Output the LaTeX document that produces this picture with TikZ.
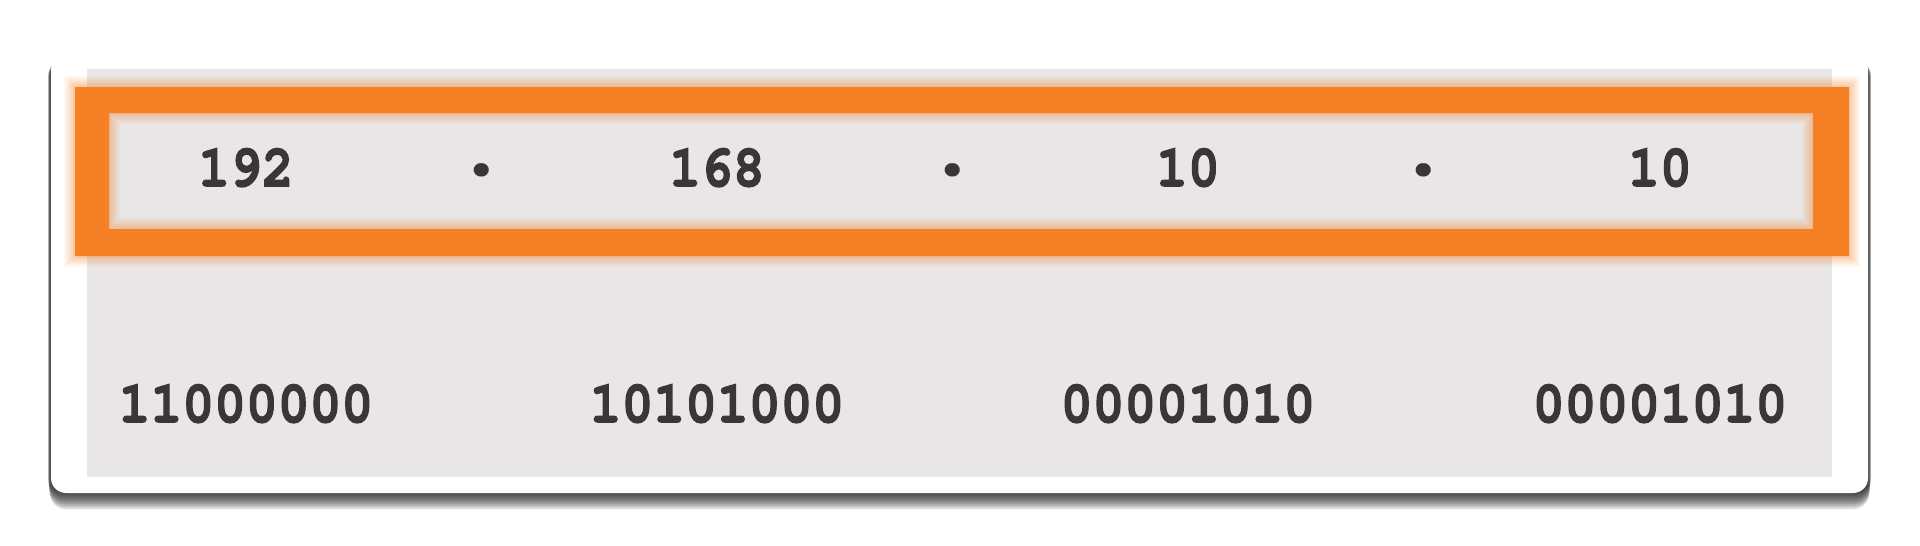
\documentclass[tikz,border=0pt]{standalone}
\usepackage[T1]{fontenc}
\usepackage{textcomp}
\usepackage{graphicx}
\usetikzlibrary{calc}
\definecolor{cardgray}{HTML}{E8E6E7}
\definecolor{orng}{HTML}{F58025}
\definecolor{txt}{HTML}{3A3637}
\newcommand{\digitfont}{\fontencoding{T1}\fontfamily{pcr}\fontseries{b}\fontsize{53}{53}\selectfont}
\newcommand{\tall}[1]{\special{pdf:literal 2 Tr 1.1 w}\scalebox{1}[1.12]{#1}\special{pdf:literal 0 Tr}}
\newcommand{\bigdot}{\scalebox{1.9}{\textperiodcentered}}
\tikzset{
  num/.style={inner sep=0pt, text=txt, font=\digitfont},
  sep/.style={inner sep=0pt, text=txt, font=\digitfont},
}
\begin{document}
\begin{tikzpicture}[x=1pt,y=-1pt]
\useasboundingbox (0,0) rectangle (1920,546);
\fill[white] (0,0) rectangle (1920,546);
% shadow
\foreach \i in {0,...,9}{
  \fill[black, opacity=0.11, rounded corners=16] (48+\i*0.2,60) rectangle (1871-\i*0.2,494+\i*1.7);
}
% card
\fill[white, rounded corners=15] (51,55) rectangle (1868,493);
\fill[cardgray] (87,69) rectangle (1832,477);
% orange glow
\foreach \i in {1,...,11}{
  \draw[orng, line width=1pt, opacity={0.45*(1-\i/12)}] (75-\i+0.5,87-\i+0.5) rectangle (1849+\i-0.5,256+\i-0.5);
  \draw[orng, line width=1pt, opacity={0.45*(1-\i/12)}] (109+\i-0.5,113+\i-0.5) rectangle (1813-\i+0.5,229-\i+0.5);
}
% orange frame
\fill[orng, even odd rule] (75,87) rectangle (1849,256) (109,113) rectangle (1813,229);
% decimal row
\node[num] (d1) at (246,168) {\tall{192}};
\node[num] (d2) at (717,168) {\tall{168}};
\node[num] (d3) at (1188,168) {\tall{10}};
\node[num] (d4) at (1660,168) {\tall{10}};
\node[sep] (s1) at (482,181) {\bigdot};
\node[sep] (s2) at (953,181) {\bigdot};
\node[sep] (s3) at (1424,181) {\bigdot};
% binary row
\node[num] (b1) at (246,404) {\tall{11000000}};
\node[num] (b2) at (717,404) {\tall{10101000}};
\node[num] (b3) at (1188,404) {\tall{00001010}};
\node[num] (b4) at (1660,404) {\tall{00001010}};
\end{tikzpicture}
\end{document}
